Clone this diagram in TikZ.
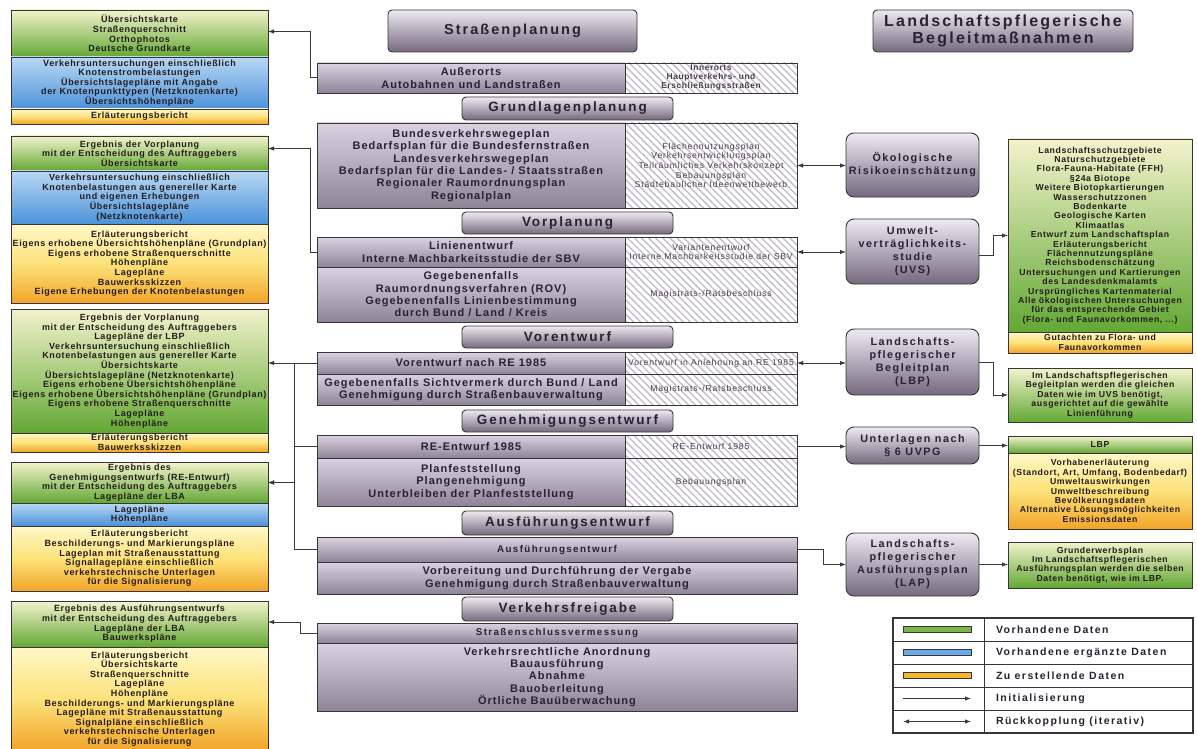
\documentclass[tikz,border=0pt]{standalone}
\usepackage{fontspec}
\setmainfont{Liberation Sans}
\newfontfamily\fb[LetterSpace=14]{Liberation Sans}
\newfontfamily\fc[LetterSpace=9]{Liberation Sans}
\newfontfamily\fd[LetterSpace=7]{Liberation Sans}
\newfontfamily\fr[LetterSpace=10]{Liberation Sans}
\usetikzlibrary{arrows.meta,patterns.meta}
\definecolor{txt}{HTML}{2A2131}
\definecolor{ltxt}{HTML}{261C1C}
\definecolor{bd}{HTML}{3A3438}
\definecolor{lc}{HTML}{3A3A3A}
\definecolor{gtop}{HTML}{F2F3CC}
\definecolor{gbot}{HTML}{62A834}
\definecolor{btop}{HTML}{B8D8F4}
\definecolor{bbot}{HTML}{4C92DA}
\definecolor{ytop}{HTML}{FFF8C8}
\definecolor{ymid}{HTML}{FCE27A}
\definecolor{ybot}{HTML}{F2A429}
\definecolor{htop}{HTML}{EEEAF2}
\definecolor{hbot}{HTML}{75697E}
\definecolor{rtop}{HTML}{DAD2E0}
\definecolor{rbot}{HTML}{8F8497}
\definecolor{hatch}{HTML}{C2BAC9}
\definecolor{htxt}{HTML}{4A4150}
\definecolor{swg}{HTML}{7AB648}
\definecolor{swb}{HTML}{6AAAE6}
\definecolor{swy}{HTML}{F5B731}
\tikzset{
 every node/.style={inner sep=0pt,outer sep=0pt,align=center},
 bx/.style n args={4}{anchor=north west,at={(#1,#2)},minimum width=#3,minimum height=#4},
 lt/.style={font=\fd\bfseries\fontsize{9}{9.6}\selectfont,text=ltxt},
 rt/.style={font=\fd\bfseries\fontsize{8.7}{9.4}\selectfont,text=ltxt},
 gpart/.style={draw=bd,line width=0.9pt,top color=gtop,bottom color=gbot},
 bpart/.style={draw=bd,line width=0.9pt,top color=btop,bottom color=bbot},
 ypart/.style={draw=bd,line width=0.9pt,top color=ytop,bottom color=ybot,middle color=ymid},
 hdr/.style={draw=bd,line width=0.9pt,rounded corners=4pt,top color=htop,bottom color=hbot,font=\fb\bfseries\fontsize{13.5}{15}\selectfont,text=txt},
 rowbox/.style={draw=bd,line width=0.9pt,top color=rtop,bottom color=rbot,font=\fc\bfseries\fontsize{11}{12.4}\selectfont,text=txt},
 hat/.style={draw=bd,line width=0.9pt,pattern={Lines[angle=-45,distance=5pt,line width=1.3pt]},pattern color=hatch,font=\fr\fontsize{8.6}{9.6}\selectfont,text=htxt},
 sbox/.style={draw=bd,line width=0.9pt,rounded corners=8pt,top color=htop,bottom color=hbot,font=\fb\bfseries\fontsize{10.8}{13}\selectfont,text=txt},
 conn/.style={draw=lc,line width=1pt},
 arr/.style={conn,-{Latex[length=6pt,width=4.5pt]}},
 darr/.style={conn,{Latex[length=6pt,width=4.5pt]}-{Latex[length=6pt,width=4.5pt]}},
 legtxt/.style={anchor=west,font=\fb\bfseries\fontsize{10.5}{12}\selectfont,text=txt},
 swatch/.style={draw=bd,line width=0.6pt}
}
\begin{document}
\begin{tikzpicture}[x=1pt,y=-1pt]
\useasboundingbox (0,0) rectangle (1197,749);
\fill[white] (0,0) rectangle (1197,749);
% ---------- left column ----------
\node[gpart,lt,bx={11}{10}{257}{47}] (l1g) {Übersichtskarte\\Straßenquerschnitt\\Orthophotos\\Deutsche Grundkarte};
\node[bpart,lt,bx={11}{57}{257}{52}] (l1b) {Verkehrsuntersuchungen einschließlich\\Knotenstrombelastungen\\Übersichtslagepläne mit Angabe\\der Knotenpunkttypen (Netzknotenkarte)\\Übersichtshöhenpläne};
\node[ypart,lt,bx={11}{109}{257}{15}] (l1y) {Erläuterungsbericht};

\node[gpart,lt,bx={11}{136}{257}{35}] (l2g) {Ergebnis der Vorplanung\\mit der Entscheidung des Auftraggebers\\Übersichtskarte};
\node[bpart,lt,bx={11}{171}{257}{53}] (l2b) {Verkehrsuntersuchung einschließlich\\Knotenbelastungen aus genereller Karte\\und eigenen Erhebungen\\Übersichtslagepläne\\(Netzknotenkarte)};
\node[ypart,lt,bx={11}{224}{257}{79}] (l2y) {Erläuterungsbericht\\Eigens erhobene Übersichtshöhenpläne (Grundplan)\\Eigens erhobene Straßenquerschnitte\\Höhenpläne\\Lagepläne\\Bauwerksskizzen\\Eigene Erhebungen der Knotenbelastungen};

\node[gpart,lt,bx={11}{309}{257}{124}] (l3g) {Ergebnis der Vorplanung\\mit der Entscheidung des Auftraggebers\\Lagepläne der LBP\\Verkehrsuntersuchung einschließlich\\Knotenbelastungen aus genereller Karte\\Übersichtskarte\\Übersichtslagepläne (Netzknotenkarte)\\Eigens erhobene Übersichtshöhenpläne\\Eigens erhobene Übersichtshöhenpläne (Grundplan)\\Eigens erhobene Straßenquerschnitte\\Lagepläne\\Höhenpläne};
\node[ypart,lt,bx={11}{433}{257}{19}] (l3y) {Erläuterungsbericht\\Bauwerksskizzen};

\node[gpart,lt,bx={11}{462}{257}{41}] (l4g) {Ergebnis des\\Genehmigungsentwurfs (RE-Entwurf)\\mit der Entscheidung des Auftraggebers\\Lagepläne der LBA};
\node[bpart,lt,bx={11}{503}{257}{23}] (l4b) {Lagepläne\\Höhenpläne};
\node[ypart,lt,bx={11}{526}{257}{65}] (l4y) {Erläuterungsbericht\\Beschilderungs- und Markierungspläne\\Lageplan mit Straßenausstattung\\Signallagepläne einschließlich\\verkehrstechnische Unterlagen\\für die Signalisierung};

\node[gpart,lt,bx={11}{601}{257}{46}] (l5g) {Ergebnis des Ausführungsentwurfs\\mit der Entscheidung des Auftraggebers\\Lagepläne der LBA\\Bauwerkspläne};
\node[ypart,lt,bx={11}{647}{257}{104}] (l5y) {Erläuterungsbericht\\Übersichtskarte\\Straßenquerschnitte\\Lagepläne\\Höhenpläne\\Beschilderungs- und Markierungspläne\\Lagepläne mit Straßenausstattung\\Signalpläne einschließlich\\verkehrstechnische Unterlagen\\für die Signalisierung};

% ---------- titles ----------
\node[hdr,bx={388}{10}{249}{42},font=\fb\bfseries\fontsize{14.5}{16}\selectfont] (t1) {Straßenplanung};
\node[hdr,bx={873}{10}{260}{42},font=\fb\bfseries\fontsize{16}{17}\selectfont] (t2) {Landschaftspflegerische\\Begleitmaßnahmen};

% ---------- centre column ----------
\node[rowbox,bx={317}{63}{308}{30}] (aus) {Außerorts\\Autobahnen und Landstraßen};
\node[hat,bx={625}{63}{172}{30},font=\fd\bfseries\fontsize{8.4}{9}\selectfont] (ausH) {Innerorts\\Hauptverkehrs- und\\Erschließungsstraßen};

\node[hdr,bx={462}{97}{211}{23}] (h1) {Grundlagenplanung};
\node[rowbox,bx={317}{123}{308}{85}] (grund) {Bundesverkehrswegeplan\\Bedarfsplan für die Bundesfernstraßen\\Landesverkehrswegeplan\\Bedarfsplan für die Landes- / Staatsstraßen\\Regionaler Raumordnungsplan\\Regionalplan};
\node[hat,bx={625}{123}{172}{85}] (grundH) {Flächennutzungsplan\\Verkehrsentwicklungsplan\\Teilräumliches Verkehrskonzept\\Bebauungsplan\\Städtebaulicher Ideenwettbewerb};

\node[hdr,bx={462}{212}{211}{22}] (h2) {Vorplanung};
\node[rowbox,bx={317}{237}{308}{30}] (lin) {Linienentwurf\\Interne Machbarkeitsstudie der SBV};
\node[hat,bx={625}{237}{172}{30}] (linH) {Variantenentwurf\\Interne Machbarkeitsstudie der SBV};
\node[rowbox,bx={317}{267}{308}{55}] (geg) {Gegebenenfalls\\Raumordnungsverfahren (ROV)\\Gegebenenfalls Linienbestimmung\\durch Bund / Land / Kreis};
\node[hat,bx={625}{267}{172}{55}] (gegH) {Magistrats-/Ratsbeschluss};

\node[hdr,bx={462}{326}{211}{22}] (h3) {Vorentwurf};
\node[rowbox,bx={317}{352}{308}{22}] (vor) {Vorentwurf nach RE 1985};
\node[hat,bx={625}{352}{172}{22}] (vorH) {Vorentwurf in Anlehnung an RE 1985};
\node[rowbox,bx={317}{374}{308}{31}] (sicht) {Gegebenenfalls Sichtvermerk durch Bund / Land\\Genehmigung durch Straßenbauverwaltung};
\node[hat,bx={625}{374}{172}{31}] (sichtH) {Magistrats-/Ratsbeschluss};

\node[hdr,bx={462}{410}{211}{22}] (h4) {Genehmigungsentwurf};
\node[rowbox,bx={317}{435}{308}{23}] (re) {RE-Entwurf 1985};
\node[hat,bx={625}{435}{172}{23}] (reH) {RE-Entwurf 1985};
\node[rowbox,bx={317}{458}{308}{48}] (planf) {Planfeststellung\\Plangenehmigung\\Unterbleiben der Planfeststellung};
\node[hat,bx={625}{458}{172}{48}] (planfH) {Bebauungsplan};

\node[hdr,bx={462}{511}{211}{24}] (h5) {Ausführungsentwurf};
\node[rowbox,bx={317}{537}{480}{25},font=\fb\bfseries\fontsize{9.8}{11}\selectfont] (ausf) {Ausführungsentwurf};
\node[rowbox,bx={317}{562}{480}{32}] (vorb) {Vorbereitung und Durchführung der Vergabe\\Genehmigung durch Straßenbauverwaltung};

\node[hdr,bx={462}{597}{211}{24}] (h6) {Verkehrsfreigabe};
\node[rowbox,bx={317}{623}{480}{20},font=\fb\bfseries\fontsize{9.8}{11}\selectfont] (ssv) {Straßenschlussvermessung};
\node[rowbox,bx={317}{643}{480}{68}] (verk) {Verkehrsrechtliche Anordnung\\Bauausführung\\Abnahme\\Bauoberleitung\\Örtliche Bauüberwachung};

% ---------- right middle boxes ----------
\node[sbox,bx={846}{133}{133}{64}] (oeko) {Ökologische\\Risikoeinschätzung};
\node[sbox,bx={846}{219}{133}{65}] (uvs) {Umwelt-\\verträglichkeits-\\studie\\(UVS)};
\node[sbox,bx={846}{329}{133}{66}] (lbp) {Landschafts-\\pflegerischer\\Begleitplan\\(LBP)};
\node[sbox,bx={846}{427}{133}{37}] (unter) {Unterlagen nach\\§ 6 UVPG};
\node[sbox,bx={846}{533}{133}{63}] (lap) {Landschafts-\\pflegerischer\\Ausführungsplan\\(LAP)};

% ---------- right column ----------
\node[gpart,rt,bx={1008}{139}{184}{193}] (r1g) {Landschaftsschutzgebiete\\Naturschutzgebiete\\Flora-Fauna-Habitate (FFH)\\§24a Biotope\\Weitere Biotopkartierungen\\Wasserschutzzonen\\Bodenkarte\\Geologische Karten\\Klimaatlas\\Entwurf zum Landschaftsplan\\Erläuterungsbericht\\Flächennutzungspläne\\Reichsbodenschätzung\\Untersuchungen und Kartierungen\\des Landesdenkmalamts\\Ursprüngliches Kartenmaterial\\Alle ökologischen Untersuchungen\\für das entsprechende Gebiet\\(Flora- und Faunavorkommen, ...)};
\node[ypart,rt,bx={1008}{332}{184}{21}] (r1y) {Gutachten zu Flora- und\\Faunavorkommen};
\node[gpart,rt,bx={1008}{368}{184}{54}] (r2) {Im Landschaftspflegerischen\\Begleitplan werden die gleichen\\Daten wie im UVS benötigt,\\ausgerichtet auf die gewählte\\Linienführung};
\node[gpart,rt,bx={1008}{436}{184}{17}] (r3g) {LBP};
\node[ypart,rt,bx={1008}{453}{184}{76}] (r3y) {Vorhabenerläuterung\\(Standort, Art, Umfang, Bodenbedarf)\\Umweltauswirkungen\\Umweltbeschreibung\\Bevölkerungsdaten\\Alternative Lösungsmöglichkeiten\\Emissionsdaten};
\node[gpart,rt,bx={1008}{542}{184}{46}] (r4) {Grunderwerbsplan\\Im Landschaftspflegerischen\\Ausführungsplan werden die selben\\Daten benötigt, wie im LBP.};

% ---------- legend ----------
\foreach \i in {0,...,4}{
  \node[draw=bd,line width=0.8pt,bx={893}{618+23*\i}{91}{23}] (lc\i) {};
  \node[draw=bd,line width=0.8pt,bx={984}{618+23*\i}{209}{23}] (lt\i) {};
}
\node[draw=bd,line width=1.6pt,bx={893}{618}{300}{115}] (legframe) {};
\node[swatch,fill=swg,bx={903}{626.5}{68}{6}] (sw1) {};
\node[swatch,fill=swb,bx={903}{649.5}{68}{6}] (sw2) {};
\node[swatch,fill=swy,bx={903}{672.5}{68}{6}] (sw3) {};
\node[legtxt] (lg1) at (996,629.5) {Vorhandene Daten};
\node[legtxt] (lg2) at (996,652.5) {Vorhandene ergänzte Daten};
\node[legtxt] (lg3) at (996,675.5) {Zu erstellende Daten};
\node[legtxt] (lg4) at (996,698.5) {Initialisierung};
\node[legtxt] (lg5) at (996,721.5) {Rückkopplung (iterativ)};
\coordinate (ia) at (903,698.5);
\coordinate (ib) at (971,698.5);
\coordinate (ra) at (903,721.5);
\coordinate (rb) at (971,721.5);
\draw[arr] (ia) -- (ib);
\draw[darr] (ra) -- (rb);

% ---------- connectors left ----------
\draw[arr] (aus.west) -- ++(-7,0) |- ([yshift=2pt]l1g.east);
\draw[arr] (lin.west) -- ++(-7,0) |- ([yshift=5pt]l2g.east);
\draw[arr] (vor.west) -- (vor.west -| l3g.east);
\draw[conn] (re.west) -- ++(-23,0) |- (vor.west);
\draw[arr] (re.west) -- ++(-23,0) |- (l4g.east);
\draw[arr] (ausf.west) -- ++(-23,0) |- (l4g.east);
\draw[arr] (ssv.west) -- ++(-17,0) |- ([yshift=2pt]l5g.east);

% ---------- connectors right ----------
\draw[darr] (grundH.east) -- (grundH.east -| oeko.west);
\draw[darr] (linH.east) -- (linH.east -| uvs.west);
\draw[darr] (vorH.east) -- (vorH.east -| lbp.west);
\draw[arr] (reH.east) -- (reH.east -| unter.west);
\draw[arr] (ausf.east) -- ++(26,0) |- (lap.west);
\draw[arr] ([yshift=-3.5pt]uvs.east) -- ++(14,0) |- (r1g.west);
\draw[arr] (lbp.east) -- ++(14,0) |- (r2.west);
\draw[arr] (unter.east) -- (unter.east -| r3g.west);
\draw[arr] (lap.east) -- (lap.east -| r4.west);
\end{tikzpicture}
\end{document}
